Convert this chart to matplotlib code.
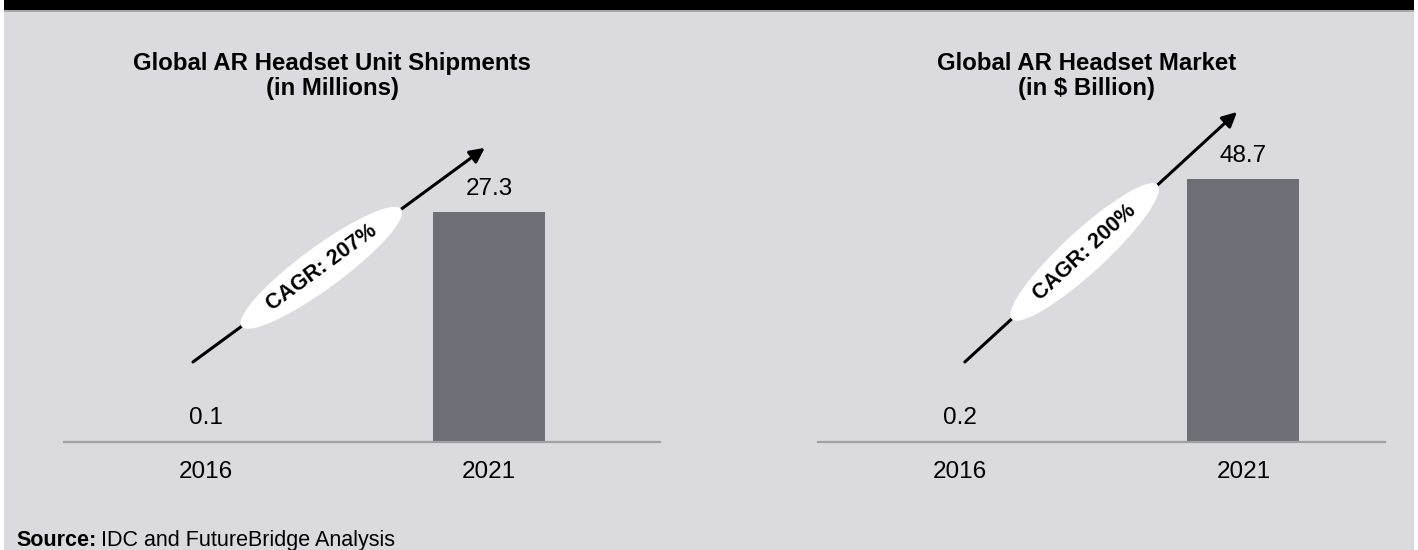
import math
import matplotlib
matplotlib.use("Agg")
import matplotlib.pyplot as plt
from matplotlib.patches import Rectangle

plt.rcParams['font.family'] = ['Liberation Sans', 'DejaVu Sans']

# data
years = ['2016', '2021']
shipments = [0.1, 27.3]
market = [0.2, 48.7]
titles_left = ['Global AR Headset Unit Shipments', '(in Millions)']
titles_right = ['Global AR Headset Market', '(in $ Billion)']
cagr_labels = ['CAGR: 207%', 'CAGR: 200%']

W, H = 1418, 550
BG = '#dadadf'
BAR = '#6e6e76'

fig = plt.figure(figsize=(W / 100, H / 100), dpi=100)
fig.patch.set_facecolor('white')


def box(x0, y0, x1, y1):
    # pixel box (top-down) -> figure fraction rect
    return [x0 / W, 1 - y1 / H, (x1 - x0) / W, (y1 - y0) / H]


# panel background + black band on top
fig.patches.append(Rectangle((4 / W, 0), 1410 / W, 1, transform=fig.transFigure,
                             fc=BG, ec='none', zorder=-10))
fig.patches.append(Rectangle((4 / W, 1 - 10 / H), 1410 / W, 10 / H, transform=fig.transFigure,
                             fc='black', ec='none', zorder=-9))
fig.patches.append(Rectangle((4 / W, 1 - 11.5 / H), 1410 / W, 1.5 / H, transform=fig.transFigure,
                             fc='#a8a8a8', ec='none', zorder=-9))

charts = [
    dict(rect=box(64, 100, 660, 442), vals=shipments, xlim=(-0.502, 1.604),
         ytop=27.3 * 342 / 230, title=titles_left, tx=332 / W,
         start=(0.2164, 0.234), end=(0.706, 0.860), label=cagr_labels[0]),
    dict(rect=box(818, 100, 1385, 442), vals=market, xlim=(-0.502, 1.5),
         ytop=48.7 * 342 / 263, title=titles_right, tx=1087 / W,
         start=(0.259, 0.234), end=(0.739, 0.965), label=cagr_labels[1]),
]

for c in charts:
    ax = fig.add_axes(c['rect'])
    ax.set_facecolor('none')
    x = list(range(len(years)))
    ax.bar(x, c['vals'], width=0.396, color=BAR, zorder=2)
    ax.set_xlim(*c['xlim'])
    ax.set_ylim(0, c['ytop'])
    for s in ['top', 'right', 'left']:
        ax.spines[s].set_visible(False)
    ax.spines['bottom'].set_color('#a0a0a0')
    ax.spines['bottom'].set_linewidth(1.6)
    ax.set_yticks([])
    ax.set_xticks(x)
    ax.set_xticklabels(years, fontsize=17.5, color='black')
    ax.tick_params(axis='x', length=0, pad=14)

    for i, v in enumerate(c['vals']):
        ax.annotate(f'{v}', (i, v), xytext=(0, 12.5), textcoords='offset points',
                    ha='center', va='baseline', fontsize=17.5, color='black')

    # title
    fig.text(c['tx'], 1 - 70 / H, c['title'][0], ha='center', va='baseline',
             fontsize=17.3, fontweight='bold')
    fig.text(c['tx'], 1 - 95 / H, c['title'][1], ha='center', va='baseline',
             fontsize=17.3, fontweight='bold')

    # growth arrow with CAGR ellipse
    ax.annotate('', xy=c['end'], xytext=c['start'], xycoords='axes fraction',
                arrowprops=dict(arrowstyle='-|>', color='black', lw=2.2,
                                mutation_scale=22, shrinkA=0, shrinkB=0), zorder=3)
    p0 = ax.transAxes.transform(c['start'])
    p1 = ax.transAxes.transform(c['end'])
    ang = math.degrees(math.atan2(p1[1] - p0[1], p1[0] - p0[0]))
    t = 0.44
    cx = c['start'][0] + t * (c['end'][0] - c['start'][0])
    cy = c['start'][1] + t * (c['end'][1] - c['start'][1])
    ax.text(cx, cy, c['label'], transform=ax.transAxes, rotation=ang,
            rotation_mode='anchor', ha='center', va='center', fontsize=15.5,
            fontweight='bold', zorder=4,
            bbox=dict(boxstyle='ellipse,pad=0.2', fc='white', ec='none'))

src = fig.text(16 / W, 1 - 546 / H, 'Source:', fontsize=15.5, fontweight='bold', va='baseline')
fig.canvas.draw()
bb = src.get_window_extent()
fig.text((bb.x1 + 5) / W, 1 - 546 / H, 'IDC and FutureBridge Analysis', fontsize=15.5,
         va='baseline')

fig.savefig('out.png', dpi=100, facecolor=fig.get_facecolor())
